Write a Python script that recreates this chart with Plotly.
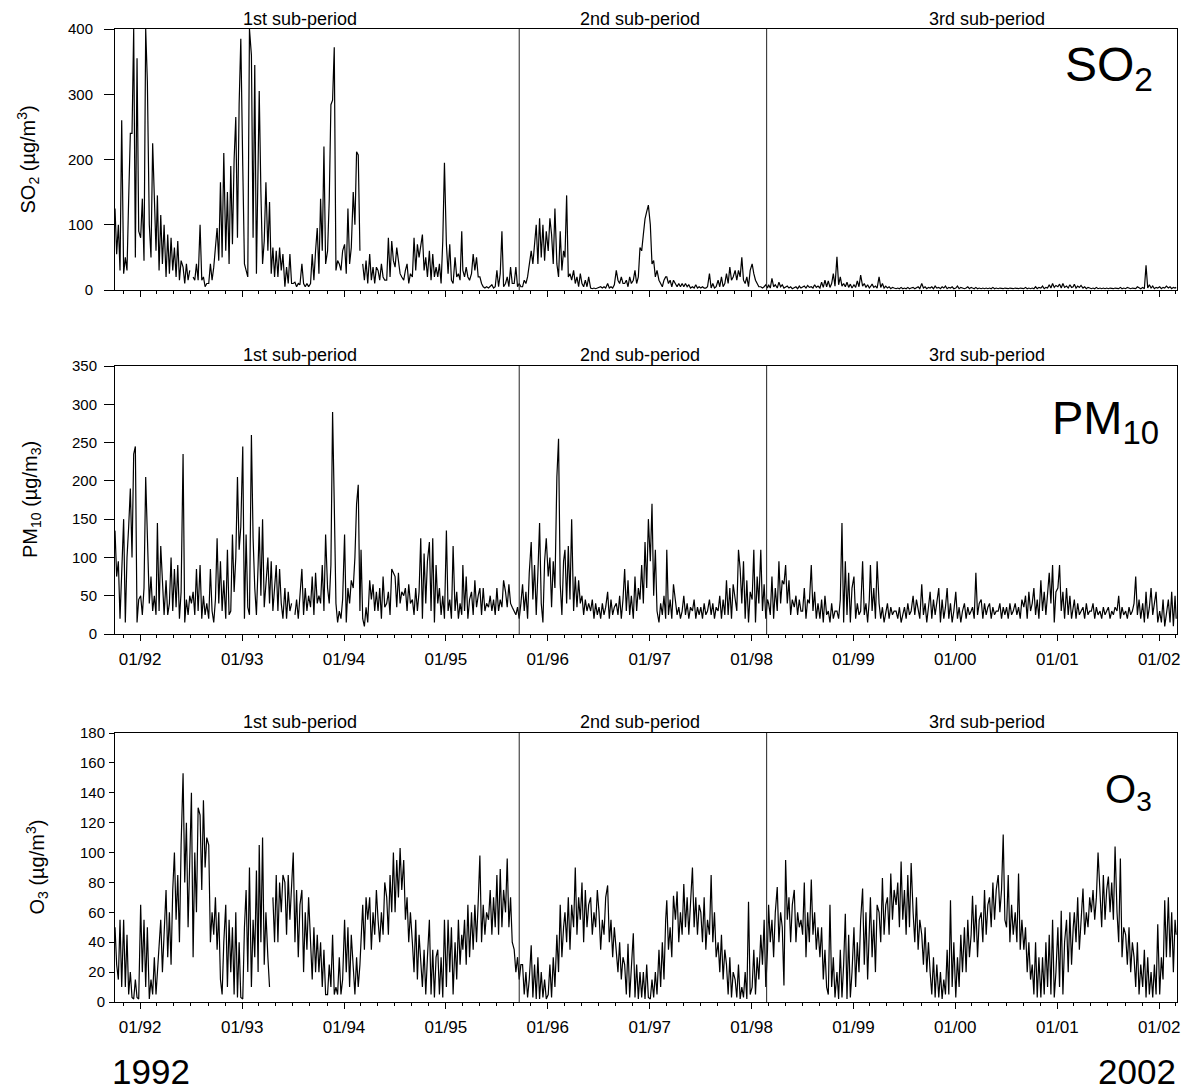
import pandas as pd
import plotly.graph_objects as go

# ---------------- data (5 samples per month) ----------------
first_month = '1991-10-01'
last_month = '2002-02-01'
sample_days = [3, 9, 15, 21, 27]
extra_date = '2002-03-03'

so2_monthly = [
    # 1991 Oct-Dec
    [125, 55, 100, 30, 260], [25, 50, 30, 140, 240], [240, 400, 50, 355, 90],
    # 1992
    [80, 140, 45, 400, 320], [100, 50, 225, 155, 60], [145, 30, 115, 40, 100], [20, 85, 25, 80, 30],
    [65, 20, 75, 15, 45], [35, 10, 40, 15, 30], [None, 20, 15, 40, 15], [100, 15, 20, 5, 10],
    [10, 40, 15, 35, 60], [95, 45, 165, 50, 210], [60, 150, 40, 190, 70], [200, 265, 80, 285, 385],
    # 1993
    [190, 40, 30, 20, 400], [360, 80, 345, 25, 230], [305, 150, 40, 75, 165], [60, 135, 25, 65, 20],
    [60, 20, 65, 30, 55], [5, 35, 10, 55, 10], [10, 12, 5, 10, 8], [40, 10, 5, 10, 5],
    [10, 55, 15, 60, 95], [25, 140, 60, 220, 40], [60, 138, 284, 291, 372], [30, 45, 40, 30, 60],
    # 1994
    [70, 25, 125, 40, 65], [150, 100, 212, 207, 60], [None, 40, 15, 45, 10], [55, 15, 35, 10, 35],
    [30, 15, 40, 20, 15], [15, 80, 20, 75, 45], [35, 65, 40, 25, 20], [15, 30, 40, 10, 25],
    [20, 80, 30, 70, 50], [70, 85, 30, 50, 20], [60, 15, 55, 20, 35], [20, 40, 10, 75, 195],
    # 1995
    [70, 25, 70, 15, 10], [50, 20, 25, 15, 90], [30, 20, 35, 20, 15], [25, 55, 30, 50, 20],
    [20, 10, 5, 3, 5], [3, 5, 8, 3, 5], [30, 5, 25, 90, 5], [10, 20, 5, 35, 10],
    [10, 35, 5, 10, 5], [5, 15, 10, 20, 40], [60, 40, 75, 100, 40], [110, 50, 100, 45, 90],
    # 1996
    [60, 110, 85, 40, 125], [40, 20, 90, 30, 60], [50, 145, 20, 25, 15], [30, 10, 20, 5, 25],
    [10, 5, 15, 5, 20], [3, 2, 3, 2, 3], [3, 5, 3, 5, 3], [10, 3, 5, 3, 8],
    [30, 15, 10, 20, 10], [10, 15, 5, 20, 10], [15, 30, 10, 20, 65], [60, 85, 109, 120, 130],
    # 1997
    [100, 40, 45, 20, 30], [15, 10, 5, 15, 20], [20, 10, 15, 5, 15], [10, 5, 10, 5, 10],
    [5, 10, 5, 8, 3], [5, 3, 8, 3, 5], [3, 5, 3, 3, 5], [25, 3, 10, 3, 5],
    [15, 5, 20, 5, 10], [25, 10, 35, 15, 20], [30, 15, 30, 20, 50], [15, 10, 20, 5, 30],
    # 1998
    [40, 25, 15, 10, 5], [5, 3, 5, 8, 3], [8, 3, 18, 5, 8], [3, 12, 5, 8, 3],
    [4, 6, 3, 5, 2], [3, 5, 2, 6, 3], [4, 6, 3, 7, 4], [5, 3, 8, 4, 6],
    [3, 12, 4, 15, 5], [14, 4, 10, 25, 6], [51, 8, 20, 6, 10], [5, 12, 4, 9, 3],
    # 1999
    [8, 4, 14, 5, 23], [6, 10, 4, 8, 3], [5, 9, 4, 6, 3], [20, 4, 10, 3, 6],
    [3, 5, 2, 4, 3], [2, 3, 2, 4, 2], [3, 2, 4, 2, 3], [4, 2, 3, 5, 2],
    [10, 3, 5, 2, 4], [3, 5, 2, 6, 3], [4, 2, 5, 3, 6], [2, 4, 3, 5, 2],
    # 2000
    [3, 6, 2, 4, 3], [2, 3, 5, 2, 4], [3, 2, 4, 2, 3], [2, 3, 2, 3, 2],
    [3, 2, 4, 2, 3], [2, 3, 2, 2, 3], [2, 2, 3, 2, 2], [3, 2, 2, 3, 2],
    [2, 4, 2, 3, 2], [3, 2, 5, 2, 4], [3, 6, 2, 4, 3], [8, 3, 10, 4, 7],
    # 2001
    [5, 9, 3, 10, 4], [6, 3, 8, 4, 5], [9, 3, 6, 4, 7], [3, 5, 2, 4, 3],
    [2, 3, 2, 4, 2], [3, 2, 3, 2, 3], [2, 3, 2, 2, 3], [3, 2, 4, 2, 3],
    [2, 4, 3, 2, 3], [3, 2, 5, 3, 2], [4, 2, 38, 3, 8], [3, 6, 2, 4, 3],
    # 2002 Jan-Feb
    [5, 2, 4, 3, 6], [3, 5, 2, 4, 3],
]
so2_extra = 4

pm10_monthly = [
    # 1991 Oct-Dec
    [135, 75, 95, 20, 80], [150, 15, 100, 140, 190], [100, 235, 245, 15, 45],
    # 1992
    [50, 25, 60, 205, 125], [40, 75, 30, 50, 25], [145, 30, 115, 75, 25], [70, 25, 40, 100, 30],
    [85, 35, 90, 20, 55], [235, 15, 45, 25, 50], [40, 55, 25, 85, 30], [90, 20, 50, 25, 40],
    [20, 85, 30, 15, 45], [125, 40, 95, 30, 70], [20, 110, 25, 30, 130], [55, 100, 205, 110, 140],
    # 1993
    [245, 20, 130, 35, 25], [260, 125, 60, 25, 90], [140, 50, 150, 35, 70], [100, 40, 95, 30, 60],
    [90, 30, 85, 40, 20], [60, 20, 55, 30, 40], [None, 25, 45, 20, 55], [85, 25, 60, 30, 50],
    [35, 75, 25, 80, 40], [50, 40, 90, 30, 130], [60, 40, 90, 290, 170], [40, 15, 30, 20, 45],
    # 1994
    [130, 15, 60, 40, 70], [60, 100, 170, 195, 30], [110, 20, 10, 35, 15], [70, 45, 65, 30, 55],
    [30, 60, 20, 75, 35], [40, 55, 25, 85, 80], [75, 35, 80, 40, 55], [50, 60, 30, 65, 40],
    [45, 25, 60, 30, 55], [125, 20, 105, 40, 95], [120, 30, 125, 15, 90], [40, 60, 25, 50, 20],
    # 1995
    [135, 30, 45, 20, 115], [30, 55, 20, 40, 25], [90, 30, 75, 20, 45], [55, 25, 70, 35, 50],
    [60, 25, 60, 30, 40], [35, 50, 30, 45, 25], [60, 30, 45, 35, 70], [55, 35, 65, 40, 35],
    [30, 25, 35, 20, 40], [65, 30, 55, 20, 80], [120, 45, 90, 25, 80], [145, 40, 15, 95, 125],
    # 1996
    [75, 100, 35, 95, 60], [205, 255, 65, 25, 95], [110, 40, 115, 45, 150], [30, 75, 35, 70, 40],
    [50, 25, 45, 30, 40], [30, 45, 20, 40, 25], [35, 20, 40, 25, 35], [55, 20, 45, 25, 35],
    [40, 25, 50, 20, 45], [85, 30, 70, 25, 50], [20, 75, 30, 60, 45], [90, 40, 120, 60, 150],
    # 1997
    [95, 170, 50, 110, 30], [15, 40, 25, 50, 20], [110, 25, 45, 20, 65], [40, 25, 35, 20, 30],
    [50, 25, 40, 20, 35], [30, 45, 20, 35, 25], [35, 20, 40, 25, 30], [45, 25, 40, 20, 35],
    [30, 50, 20, 45, 25], [70, 25, 60, 20, 65], [45, 30, 110, 85, 40], [95, 20, 70, 15, 55],
    # 1998
    [45, 110, 15, 75, 40], [110, 30, 65, 20, 45], [40, 25, 75, 20, 60], [30, 95, 40, 70, 65],
    [90, 40, 70, 25, 45], [35, 50, 25, 45, 30], [30, 60, 20, 45, 40], [90, 30, 55, 20, 40],
    [20, 45, 15, 50, 25], [30, 15, 40, 20, 30], [30, 20, 45, 145, 15], [95, 25, 80, 15, 60],
    # 1999
    [75, 20, 40, 25, 30], [95, 25, 40, 15, 45], [90, 30, 60, 20, 95], [40, 20, 35, 15, 30],
    [40, 20, 35, 25, 30], [30, 20, 35, 15, 25], [35, 20, 40, 25, 30], [50, 25, 45, 30, 20],
    [65, 25, 40, 15, 35], [55, 20, 45, 25, 40], [60, 15, 45, 20, 35], [60, 20, 40, 15, 30],
    # 2000
    [55, 20, 35, 15, 30], [40, 20, 35, 25, 30], [35, 20, 80, 25, 40], [45, 20, 40, 25, 35],
    [40, 20, 35, 25, 30], [30, 40, 20, 35, 25], [35, 20, 40, 25, 30], [40, 25, 35, 20, 45],
    [35, 50, 20, 55, 30], [40, 60, 25, 45, 20], [70, 30, 55, 25, 50], [80, 40, 90, 15, 55],
    # 2001
    [60, 90, 30, 55, 20], [60, 25, 50, 20, 40], [45, 20, 40, 25, 30], [35, 20, 40, 25, 30],
    [30, 40, 20, 35, 25], [30, 20, 35, 25, 30], [35, 20, 30, 25, 35], [30, 50, 20, 35, 25],
    [30, 20, 35, 25, 30], [40, 75, 25, 45, 20], [40, 15, 55, 20, 35], [60, 25, 40, 55, 15],
    # 2002 Jan-Feb
    [30, 15, 45, 10, 25], [45, 15, 55, 10, 50],
]
pm10_extra = 20

o3_monthly = [
    # 1991 Oct-Dec
    [50, 25, 15, 55, 10], [55, 10, 45, 5, 20], [3, 2, 15, 3, 2],
    # 1992
    [65, 20, 55, 10, 50], [2, 15, 5, 30, 5], [20, 35, 55, 20, 45], [75, 30, 60, 25, 75],
    [100, 55, 85, 40, 105], [153, 80, 120, 50, 100], [140, 30, 100, 60, 130], [125, 75, 135, 90, 110],
    [105, 40, 60, 45, 70], [35, 60, 15, 5, 40], [65, 10, 55, 20, 50], [5, 60, 3, 40, 3],
    # 1993
    [2, 50, 75, 20, 90], [10, 55, 30, 88, 20], [105, 40, 110, 25, 60], [30, 10, None, 70, 40],
    [85, 40, 80, 60, 85], [80, 45, 85, 55, 75], [100, 40, 75, 30, 65], [75, 20, 60, 35, 70],
    [40, 15, 50, 20, 45], [20, 40, 10, 35, 5], [5, 25, 10, 45, 5], [10, 5, 30, 5, 15],
    # 1994
    [55, 20, 50, 10, 45], [25, 5, 30, 10, 25], [40, 65, 35, 70, 55], [70, 35, 60, 45, 75],
    [55, 40, 60, 45, 80], [70, 45, 85, 60, 100], [60, 95, 70, 103, 75], [95, 55, 70, 40, 60],
    [40, 20, 55, 15, 45], [25, 10, 35, 5, 30], [55, 5, 35, 3, 30], [35, 5, 30, 3, 55],
    # 1995
    [10, 55, 20, 50, 5], [40, 15, 55, 25, 45], [35, 55, 25, 65, 30], [60, 35, 65, 40, 67],
    [98, 40, 65, 45, 60], [55, 75, 45, 70, 50], [85, 45, 89, 50, 75], [60, 96, 50, 70, 40],
    [35, 20, 30, 15, 25], [25, 5, 20, 3, 15], [38, 3, 25, 2, 30], [2, 20, 3, 15, 2],
    # 1996
    [5, 25, 3, 30, 10], [45, 20, 65, 30, 50], [60, 40, 70, 35, 65], [50, 90, 45, 70, 55],
    [80, 40, 75, 50, 65], [70, 45, 60, 50, 75], [60, 35, 55, 45, 70], [78, 40, 55, 30, 50],
    [35, 20, 40, 15, 30], [25, 5, 39, 3, 20], [46, 3, 25, 2, 20], [3, 20, 2, 25, 3],
    # 1997
    [2, 15, 3, 20, 5], [35, 10, 40, 15, 55], [68, 35, 50, 30, 71], [55, 74, 40, 60, 45],
    [79, 50, 70, 45, 65], [90, 50, 70, 45, 65], [60, 40, 70, 35, 55], [45, 85, 40, 60, 30],
    [40, 20, 45, 15, 35], [25, 5, 30, 3, 20], [15, 3, 25, 2, 10], [3, 20, 2, 67, 5],
    # 1998
    [10, 35, 5, 30, 15], [45, 25, 55, 10, 35], [65, 40, 55, 30, 60], [77, 40, 60, 50, 11],
    [95, 55, 70, 40, 65], [75, 40, 60, 50, 55], [45, 80, 30, 60, 40], [82, 45, 60, 35, 50],
    [30, 50, 15, 35, 10], [5, 65, 10, 30, 3], [20, 2, 35, 3, 25], [59, 2, 45, 3, 20],
    # 1999
    [50, 10, 40, 20, 55], [76, 25, 60, 15, 50], [70, 30, 55, 20, 65], [60, 40, 83, 45, 65],
    [70, 45, 86, 55, 75], [65, 80, 50, 94, 55], [75, 45, 85, 50, 93], [60, 40, 70, 35, 55],
    [45, 25, 50, 20, 40], [20, 5, 30, 3, 25], [3, 20, 2, 15, 5], [35, 5, 68, 10, 40],
    # 2000
    [3, 30, 10, 45, 20], [50, 20, 55, 30, 45], [71, 40, 65, 30, 55], [60, 40, 75, 45, 65],
    [70, 50, 80, 55, 75], [85, 60, 75, 112, 55], [50, 85, 40, 65, 45], [60, 40, 86, 35, 55],
    [35, 50, 20, 40, 15], [25, 5, 40, 3, 30], [3, 30, 5, 40, 10], [45, 5, 55, 3, 20],
    # 2001
    [50, 10, 61, 5, 40], [55, 20, 60, 25, 50], [60, 40, 70, 35, 55], [76, 45, 60, 50, 70],
    [60, 75, 55, 70, 100], [70, 50, 85, 55, 75], [84, 60, 80, 55, 104], [60, 40, 96, 30, 50],
    [45, 25, 50, 20, 40], [30, 10, 40, 5, 25], [10, 35, 3, 30, 5], [20, 3, 25, 5, 52],
    # 2002 Jan-Feb
    [5, 30, 15, 68, 30], [70, 30, 60, 20, 55],
]
o3_extra = 45

period_boundaries = ['1995-09-21', '1998-02-24']
period_labels = ['1st sub-period', '2nd sub-period', '3rd sub-period']
x_range = ['1991-10-03', '2002-03-06']

y_titles = ['SO<sub>2</sub> (µg/m<sup>3</sup>)',
            'PM<sub>10</sub> (µg/m<sub>3</sub>)',
            'O<sub>3</sub> (µg/m<sup>3</sup>)']
big_labels = ['SO<sub>2</sub>', 'PM<sub>10</sub>', 'O<sub>3</sub>']
y_ranges = [[0, 400], [0, 350], [0, 180]]
y_dticks = [100, 50, 20]
year_labels = ['1992', '2002']

# ---------------- build series ----------------
months = pd.date_range(first_month, last_month, freq='MS')
dates = [m + pd.Timedelta(days=d - 1) for m in months for d in sample_days]
dates.append(pd.Timestamp(extra_date))


def flatten(monthly, extra):
    out = []
    for row in monthly:
        assert len(row) == 5, row
        out.extend(row)
    out.append(extra)
    return out


series = [flatten(so2_monthly, so2_extra),
          flatten(pm10_monthly, pm10_extra),
          flatten(o3_monthly, o3_extra)]
for s in series:
    assert len(s) == len(dates), (len(s), len(dates))

# ---------------- layout geometry (pixels) ----------------
W, H = 1184, 1091
FONT = 'Liberation Sans, Arial, sans-serif'
x_left, x_right = 115, 1177
panels = [(29, 290), (366, 634), (733, 1002)]
ytick_len = [10, 10, 5]
ytick_standoff = [8, 4, 1]


def px(x):
    return x / W


def py(y):
    return 1 - y / H


fig = go.Figure()
layout = dict(template='none', width=W, height=H, margin=dict(l=0, r=0, t=0, b=0, pad=0),
              autosize=False, paper_bgcolor='white', plot_bgcolor='white', showlegend=False,
              font=dict(family=FONT, color='black'))

annotations = []
shapes = []
for i, (top, bot) in enumerate(panels):
    n = '' if i == 0 else str(i + 1)
    fig.add_trace(go.Scatter(x=dates, y=series[i], mode='lines',
                             line=dict(color='black', width=1.2),
                             xaxis='x' + n, yaxis='y' + n,
                             connectgaps=False, hoverinfo='skip'))
    layout['xaxis' + n] = dict(
        domain=[px(x_left), px(x_right)], anchor='y' + n, type='date', range=x_range,
        automargin=False,
        tick0='1992-01-01', dtick='M12', tickformat='%m/%y', ticks='outside',
        ticklen=6, tickwidth=1, tickcolor='black', showline=True, linecolor='black',
        linewidth=1, mirror=True, showgrid=False, zeroline=False,
        showticklabels=(i > 0), ticklabelstandoff=4,
        tickfont=dict(family=FONT, size=17, color='black'),
        minor=dict(tick0='1992-01-01', dtick='M2', ticks='outside', ticklen=3,
                   tickwidth=1, tickcolor='black', showgrid=False))
    layout['yaxis' + n] = dict(
        domain=[py(bot), py(top)], anchor='x' + n, range=y_ranges[i], dtick=y_dticks[i],
        automargin=False,
        ticks='outside', ticklen=ytick_len[i], tickwidth=1, tickcolor='black',
        showline=True, linecolor='black', linewidth=1, mirror=True, showgrid=False,
        zeroline=False, ticklabelstandoff=ytick_standoff[i],
        tickfont=dict(family=FONT, size=15, color='black'))
    # sub-period separators
    for b in period_boundaries:
        shapes.append(dict(type='line', xref='x' + n, yref='y' + n + ' domain',
                           x0=b, x1=b, y0=0, y1=1, line=dict(color='#222', width=1)))

# sub-period labels
label_x = [300, 640, 987]
label_y = [18.5, 355, 722]
for i in range(3):
    for j, lab in enumerate(period_labels):
        annotations.append(dict(text=lab, x=px(label_x[j]), y=py(label_y[i]),
                                xref='paper', yref='paper', showarrow=False,
                                xanchor='center', yanchor='middle',
                                font=dict(family=FONT, size=18, color='black')))

# y-axis titles
title_x = [28, 31, 37]
for i, (top, bot) in enumerate(panels):
    annotations.append(dict(text=y_titles[i], x=px(title_x[i]), y=py((top + bot) / 2),
                            xref='paper', yref='paper', showarrow=False, textangle=-90,
                            xanchor='center', yanchor='middle',
                            font=dict(family=FONT, size=20, color='black')))

# big pollutant labels
big_x = [1155, 1161, 1154]
big_y = [68, 421, 792]
big_size = [48, 47, 40]
for i in range(3):
    annotations.append(dict(text=big_labels[i], x=px(big_x[i]), y=py(big_y[i]),
                            xref='paper', yref='paper', showarrow=False,
                            xanchor='right', yanchor='middle',
                            font=dict(family=FONT, size=big_size[i], color='black')))

# year labels below
annotations.append(dict(text=year_labels[0], x=px(151), y=py(1071), xref='paper', yref='paper',
                        showarrow=False, xanchor='center', yanchor='middle',
                        font=dict(family=FONT, size=35, color='black')))
annotations.append(dict(text=year_labels[1], x=px(1137), y=py(1071), xref='paper', yref='paper',
                        showarrow=False, xanchor='center', yanchor='middle',
                        font=dict(family=FONT, size=35, color='black')))

layout['annotations'] = annotations
layout['shapes'] = shapes
fig.update_layout(**layout)
fig.write_html('out.html', config={'displayModeBar': False},
               post_script="document.body.style.margin='0';document.body.style.overflow='hidden';")
